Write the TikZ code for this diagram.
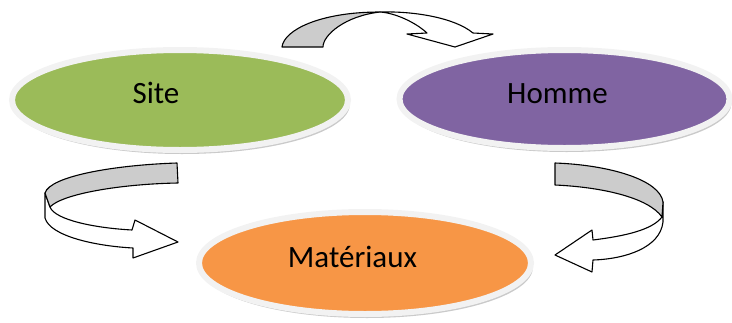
\documentclass[tikz,border=0pt]{standalone}
\usepackage{fontspec}
\setmainfont{Carlito}
\usetikzlibrary{shapes.geometric,shadows}
\definecolor{sitegreen}{HTML}{9BBB59}
\definecolor{hommepurple}{HTML}{8064A2}
\definecolor{matorange}{HTML}{F79646}
\definecolor{ringwhite}{HTML}{F2F2F2}
\definecolor{ribbongray}{HTML}{CCCCCC}
\tikzset{
  oval/.style={ellipse, inner sep=0pt, draw=ringwhite, line width=6pt,
    drop shadow={shadow xshift=2pt, shadow yshift=-4pt, opacity=0.35, fill=black!60}},
  lbl/.style={anchor=base, inner sep=0pt, text=black, font=\fontsize{31}{36}\selectfont},
  ribbon/.style={draw=black, line width=1.1pt, line join=round},
}
\begin{document}
\begin{tikzpicture}[x=1pt,y=-1pt]
\useasboundingbox (0,0) rectangle (732,322);
% ellipses
\node[oval, fill=sitegreen, minimum width=336pt, minimum height=100pt] (site) at (180,100) {};
\node[oval, fill=hommepurple, minimum width=330pt, minimum height=98pt] (homme) at (564.5,99) {};
\node[oval, fill=matorange, minimum width=332pt, minimum height=102pt] (mat) at (365,263) {};
\node[lbl] (tsite) at (156,103) {Site};
\node[lbl] (thomme) at (557.5,103) {Homme};
\node[lbl] (tmat) at (352.5,267) {Matériaux};
% top arrow
\draw[ribbon, fill=white] (380,12) .. controls (415,11) and (455,18) .. (473,33)
  -- (493,34) -- (455,47) -- (407,34) -- (427,33)
  .. controls (415,22) and (395,13) .. (380,12) -- cycle;
\draw[ribbon, fill=ribbongray] (282,47) .. controls (284,30) and (320,12) .. (380,12)
  .. controls (345,16) and (323,35) .. (323,47) -- cycle;
% left arrow
\draw[ribbon, fill=white] (45,193) -- (45,218) .. controls (50,236) and (95,246) .. (133,248)
  -- (133,258) -- (178,242) -- (135,220) -- (132,230)
  .. controls (95,228) and (55,220) .. (50,207) -- cycle;
\draw[ribbon, fill=ribbongray] (177,163) .. controls (115,165) and (50,176) .. (45,193)
  -- (50,207) .. controls (62,194) and (120,184) .. (178,183) -- cycle;
% right arrow
\draw[ribbon, fill=white] (663,202) -- (663,222) .. controls (660,248) and (625,259) .. (593,260)
  -- (592,272) -- (555,255) -- (592,230) -- (593,240)
  .. controls (625,236) and (652,230) .. (662,217) -- cycle;
\draw[ribbon, fill=ribbongray] (555,163) .. controls (610,165) and (660,180) .. (663,202)
  -- (662,217) .. controls (648,197) and (600,187) .. (555,185) -- cycle;
\end{tikzpicture}
\end{document}
